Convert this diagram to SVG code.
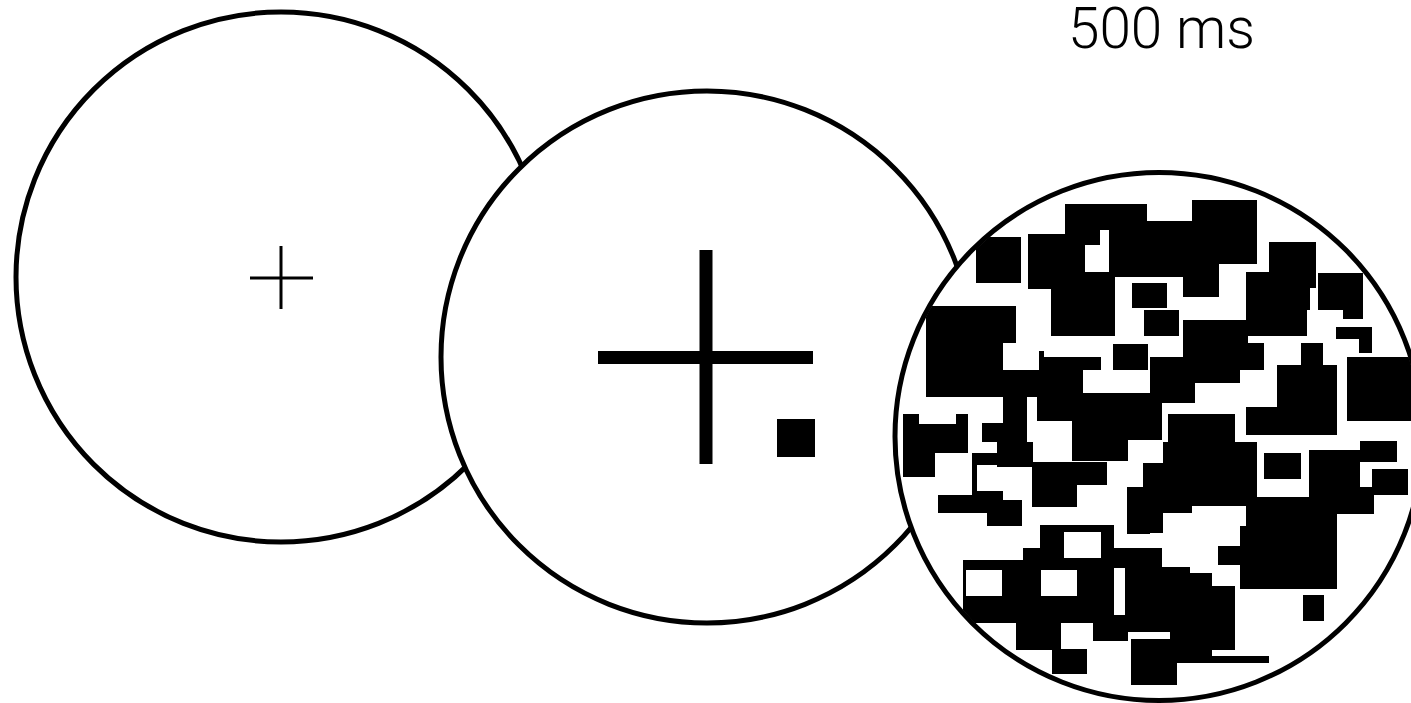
<svg xmlns="http://www.w3.org/2000/svg" width="1411" height="703" viewBox="0 0 1411 703">
<style>
.ring{fill:#fff;stroke:#000;stroke-width:5}
.thin{stroke:#000;stroke-width:3;fill:none}
.lbl{font-family:Roboto,"Liberation Sans",sans-serif;font-weight:300;font-size:57px;fill:#000}
#mask rect{fill:#000}
#mask rect.h{fill:#fff}
</style>
<defs>
<clipPath id="c3"><circle cx="1159" cy="436.5" r="262"/></clipPath>
</defs>
<g id="label"><text class="lbl" x="1068" y="48" textLength="187" lengthAdjust="spacingAndGlyphs">500 ms</text></g>
<g id="fixation">
<circle class="ring" cx="281" cy="277" r="265"/>
<line class="thin" x1="250" y1="278" x2="313" y2="278"/>
<line class="thin" x1="281" y1="246" x2="281" y2="309"/>
</g>
<g id="cue">
<circle class="ring" cx="707" cy="357" r="266"/>
<rect x="598" y="351" width="215" height="13"/>
<rect x="699.5" y="250" width="13" height="214"/>
<rect x="777" y="419" width="38" height="38"/>
</g>
<g id="mask">
<circle cx="1159" cy="436.5" r="264" fill="#fff"/>
<g clip-path="url(#c3)">
<rect x="976" y="237" width="45" height="46"/>
<rect x="1028" y="234" width="57" height="55"/>
<rect x="1065" y="204" width="82" height="26"/>
<rect x="1065" y="230" width="35" height="15"/>
<rect x="1109" y="221" width="91" height="56"/>
<rect x="1051" y="272" width="64" height="64"/>
<rect x="1132" y="283" width="35" height="25"/>
<rect x="1144" y="310" width="35" height="26"/>
<rect x="926" y="306" width="90" height="37"/>
<rect x="926" y="343" width="77" height="54"/>
<rect x="1003" y="370" width="80" height="27"/>
<rect x="1039" y="357" width="62" height="13"/>
<rect x="1039" y="351" width="5" height="6"/>
<rect x="1113" y="344" width="35" height="26"/>
<rect x="1003" y="397" width="24" height="26"/>
<rect x="982" y="423" width="45" height="19"/>
<rect x="1037" y="393" width="113" height="28"/>
<rect x="1072" y="420" width="56" height="41"/>
<rect x="1128" y="420" width="22" height="20"/>
<rect x="903" y="414" width="16" height="16"/>
<rect x="956" y="414" width="12" height="16"/>
<rect x="903" y="424" width="65" height="29"/>
<rect x="903" y="453" width="32" height="24"/>
<rect x="997" y="442" width="36" height="25"/>
<rect x="972" y="453" width="61" height="12"/>
<rect x="972" y="453" width="5" height="40"/>
<rect x="1032" y="462" width="75" height="23"/>
<rect x="1032" y="462" width="45" height="45"/>
<rect x="938" y="495" width="65" height="18"/>
<rect x="972" y="491" width="31" height="5"/>
<rect x="987" y="500" width="35" height="26"/>
<rect x="1040" y="525" width="74" height="35"/>
<rect x="1023" y="548" width="17" height="12"/>
<rect x="963" y="560" width="151" height="63"/>
<rect x="1125" y="548" width="25" height="67"/>
<rect x="1114" y="548" width="11" height="20"/>
<rect x="1016" y="623" width="45" height="27"/>
<rect x="1052" y="649" width="35" height="25"/>
<rect x="1093" y="615" width="35" height="26"/>
<rect x="1128" y="615" width="22" height="17"/>
<rect x="1131" y="639" width="19" height="46"/>
<rect x="1127" y="487" width="23" height="47"/>
<rect x="1143" y="463" width="7" height="24"/>
<rect class="h" x="1064" y="532" width="37" height="26"/>
<rect class="h" x="966" y="570" width="36" height="26"/>
<rect class="h" x="1041" y="570" width="36" height="26"/>
<rect x="1168" y="414" width="67" height="28"/>
<rect x="1246" y="430" width="91" height="5"/>
<rect x="1163" y="442" width="94" height="55"/>
<rect x="1143" y="463" width="20" height="34"/>
<rect x="1140" y="487" width="52" height="26"/>
<rect x="1140" y="513" width="23" height="20"/>
<rect x="1264" y="453" width="37" height="26"/>
<rect x="1309" y="450" width="51" height="47"/>
<rect x="1360" y="441" width="37" height="21"/>
<rect x="1372" y="469" width="36" height="26"/>
<rect x="1360" y="487" width="14" height="10"/>
<rect x="1246" y="497" width="128" height="17"/>
<rect x="1192" y="497" width="54" height="9"/>
<rect x="1246" y="513" width="91" height="13"/>
<rect x="1240" y="526" width="97" height="63"/>
<rect x="1218" y="546" width="22" height="19"/>
<rect x="1140" y="548" width="22" height="19"/>
<rect x="1140" y="567" width="50" height="7"/>
<rect x="1140" y="573" width="72" height="14"/>
<rect x="1140" y="586" width="95" height="46"/>
<rect x="1170" y="632" width="65" height="18"/>
<rect x="1170" y="650" width="42" height="13"/>
<rect x="1212" y="656" width="57" height="7"/>
<rect x="1140" y="639" width="37" height="46"/>
<rect x="1303" y="595" width="21" height="26"/>
<rect x="1192" y="200" width="65" height="64"/>
<rect x="1140" y="264" width="79" height="13"/>
<rect x="1183" y="270" width="36" height="27"/>
<rect x="1269" y="242" width="47" height="46"/>
<rect x="1246" y="272" width="64" height="38"/>
<rect x="1246" y="310" width="61" height="26"/>
<rect x="1318" y="273" width="45" height="37"/>
<rect x="1343" y="310" width="20" height="9"/>
<rect x="1336" y="327" width="36" height="12"/>
<rect x="1359" y="338" width="13" height="15"/>
<rect x="1183" y="320" width="65" height="50"/>
<rect x="1150" y="357" width="90" height="26"/>
<rect x="1150" y="383" width="45" height="10"/>
<rect x="1248" y="343" width="16" height="27"/>
<rect x="1301" y="343" width="22" height="22"/>
<rect x="1277" y="365" width="60" height="70"/>
<rect x="1246" y="407" width="31" height="28"/>
<rect x="1347" y="357" width="64" height="64"/>
<rect x="1140" y="393" width="55" height="10"/>
<rect x="1140" y="403" width="22" height="37"/>
</g>
<circle cx="1159" cy="436.5" r="264" fill="none" stroke="#000" stroke-width="5"/>
</g>
</svg>
